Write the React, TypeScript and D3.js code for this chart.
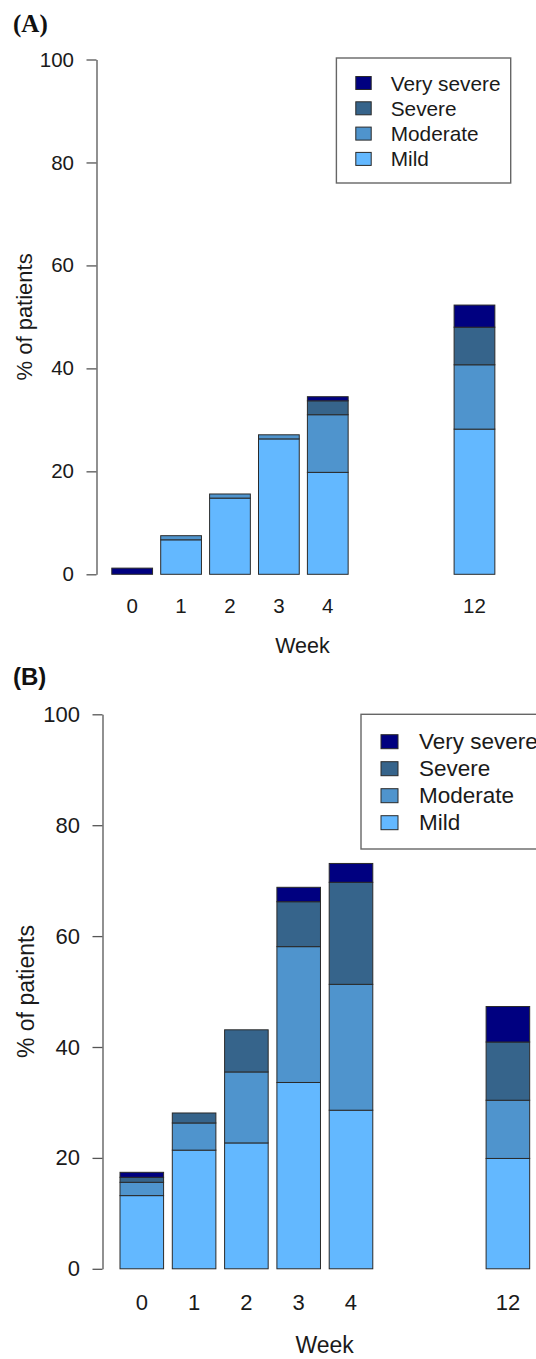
import { useEffect, useRef } from "react";
import * as d3 from "d3";

const width = 536;
const height = 1359;

const weeks = ["0", "1", "2", "3", "4", "12"];
// R barplot leaves two empty slots between week 4 and week 12
const slots = ["0", "1", "2", "3", "4", "5", "6", "12"];
const levels = ["Mild", "Moderate", "Severe", "Very severe"];
const colors = ["#63B8FF", "#4F94CD", "#36648B", "#000080"];
const yTicks = [0, 20, 40, 60, 80, 100];

// panel A
const mildA = [0, 6.7, 14.8, 26.3, 19.8, 28.2];
const moderateA = [0, 0.8, 0.8, 0.8, 11.2, 12.5];
const severeA = [0, 0, 0, 0, 2.7, 7.3];
const verySevereA = [1.2, 0, 0, 0, 0.8, 4.3];

// panel B
const mildB = [13.2, 21.4, 22.7, 33.6, 28.6, 19.9];
const moderateB = [2.4, 4.9, 12.8, 24.5, 22.7, 10.5];
const severeB = [0.9, 1.8, 7.6, 8.1, 18.4, 10.5];
const verySevereB = [0.9, 0, 0, 2.6, 3.4, 6.4];

const sans = "'Liberation Sans', Arial, sans-serif";

const panels = [
  {
    title: "(A)",
    titleFont: "'Liberation Serif', 'Times New Roman', serif",
    titleSize: 25,
    titleX: 13,
    titleY: 32,
    series: [mildA, moderateA, severeA, verySevereA],
    y0: 574.3,
    y100: 59.5,
    axisX: 96.5,
    barLeft: 111.8,
    step: 48.9,
    tickSize: 20.5,
    tickPad: 12.5,
    weekBase: 613,
    weekLabelX: 302.5,
    weekLabelY: 653,
    labelSize: 21.5,
    ylabSize: 22,
    ylabX: 24,
    legend: { x: 336.4, y: 58, w: 174.3, h: 125, swX: 355.8, swW: 15.4, swH: 13, textX: 390.7, row0: 83, rowStep: 25.3, size: 20.8 },
  },
  {
    title: "(B)",
    titleFont: sans,
    titleSize: 24,
    titleX: 13,
    titleY: 685,
    series: [mildB, moderateB, severeB, verySevereB],
    y0: 1268.8,
    y100: 714.3,
    axisX: 102.5,
    barLeft: 120,
    step: 52.3,
    tickSize: 22,
    tickPad: 12.5,
    weekBase: 1310,
    weekLabelX: 324.6,
    weekLabelY: 1353,
    labelSize: 23,
    ylabSize: 23,
    ylabX: 26,
    legend: { x: 361, y: 714.3, w: 195, h: 134.7, swX: 381, swW: 17, swH: 14, textX: 419, row0: 741.7, rowStep: 27, size: 22.5 },
  },
];

const Panel = ({ p }) => {
  const ref = useRef();

  useEffect(() => {
    const g = d3.select(ref.current);
    g.selectAll("*").remove();

    const y = d3.scaleLinear().domain([0, 100]).range([p.y0, p.y100]);
    const x = d3
      .scaleBand()
      .domain(slots)
      .range([p.barLeft, p.barLeft + p.step * (slots.length - 1 / 6)])
      .paddingInner(1 / 6)
      .paddingOuter(0);

    const table = weeks.map((w, i) => {
      const row = { week: w };
      levels.forEach((k, j) => (row[k] = p.series[j][i]));
      return row;
    });
    const stacked = d3.stack().keys(levels)(table);

    // stacked bars
    g.append("g")
      .attr("stroke", "#2a2a2a")
      .attr("stroke-width", 1)
      .selectAll("g")
      .data(stacked)
      .join("g")
      .attr("fill", (d, i) => colors[i])
      .selectAll("rect")
      .data((d) => d.filter((s) => s[1] - s[0] > 0))
      .join("rect")
      .attr("x", (d) => x(d.data.week))
      .attr("width", x.bandwidth())
      .attr("y", (d) => y(d[1]))
      .attr("height", (d) => y(d[0]) - y(d[1]));

    // y axis
    g.append("g")
      .attr("transform", `translate(${p.axisX},0)`)
      .call(d3.axisLeft(y).tickValues(yTicks).tickSize(10).tickPadding(p.tickPad).tickSizeOuter(0))
      .call((a) => a.attr("font-family", sans).attr("font-size", p.tickSize))
      .call((a) => a.selectAll("text").attr("fill", "#1a1a1a"))
      .call((a) => a.selectAll("line, path").attr("stroke", "#555").attr("stroke-width", 1.3));

    // week labels
    g.append("g")
      .attr("font-family", sans)
      .attr("font-size", p.tickSize)
      .attr("fill", "#1a1a1a")
      .attr("text-anchor", "middle")
      .selectAll("text")
      .data(weeks)
      .join("text")
      .attr("x", (d) => x(d) + x.bandwidth() / 2)
      .attr("y", p.weekBase)
      .text((d) => d);

    g.append("text")
      .attr("x", p.weekLabelX)
      .attr("y", p.weekLabelY)
      .attr("text-anchor", "middle")
      .attr("font-family", sans)
      .attr("font-size", p.labelSize)
      .attr("fill", "#1a1a1a")
      .text("Week");

    g.append("text")
      .attr("transform", `translate(${p.ylabX},${(p.y0 + p.y100) / 2}) rotate(-90)`)
      .attr("text-anchor", "middle")
      .attr("dominant-baseline", "central")
      .attr("font-family", sans)
      .attr("font-size", p.ylabSize)
      .attr("fill", "#1a1a1a")
      .text("% of patients");

    g.append("text")
      .attr("x", p.titleX)
      .attr("y", p.titleY)
      .attr("font-family", p.titleFont)
      .attr("font-weight", "bold")
      .attr("font-size", p.titleSize)
      .attr("fill", "#111")
      .text(p.title);

    // legend
    const L = p.legend;
    const lg = g.append("g");
    lg.append("rect")
      .attr("x", L.x)
      .attr("y", L.y)
      .attr("width", L.w)
      .attr("height", L.h)
      .attr("fill", "white")
      .attr("stroke", "#666")
      .attr("stroke-width", 1.4);
    const rows = levels.map((k, i) => ({ key: k, color: colors[i] })).reverse();
    const item = lg
      .selectAll("g")
      .data(rows)
      .join("g")
      .attr("transform", (d, i) => `translate(0,${L.row0 + i * L.rowStep})`);
    item
      .append("rect")
      .attr("x", L.swX)
      .attr("y", -L.swH / 2)
      .attr("width", L.swW)
      .attr("height", L.swH)
      .attr("fill", (d) => d.color)
      .attr("stroke", "#2a2a2a")
      .attr("stroke-width", 1);
    item
      .append("text")
      .attr("x", L.textX)
      .attr("dominant-baseline", "central")
      .attr("font-family", sans)
      .attr("font-size", L.size)
      .attr("fill", "#1a1a1a")
      .text((d) => d.key);
  });

  return <g ref={ref}></g>;
};

export default function App() {
  return (
    <div style={{ position: "absolute", left: 0, top: 0 }}>
      <svg width={width} height={height} viewBox={`0 0 ${width} ${height}`} style={{ display: "block", background: "white" }}>
        {panels.map((p) => (
          <Panel key={p.title} p={p} />
        ))}
      </svg>
    </div>
  );
}
